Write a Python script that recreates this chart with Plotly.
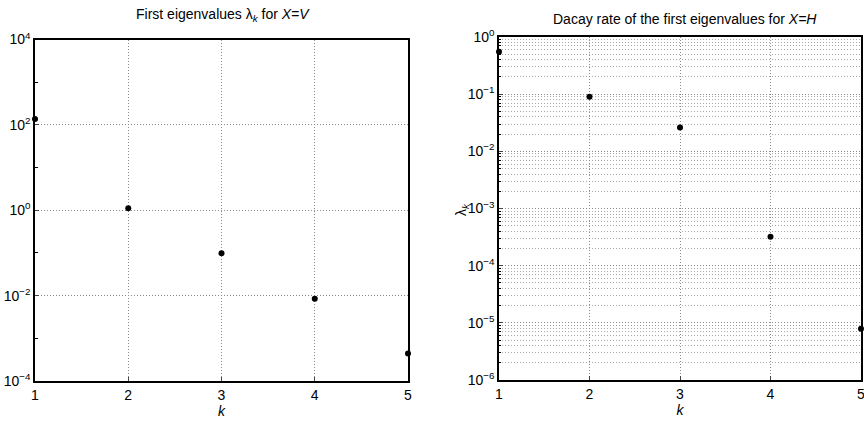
import plotly.graph_objects as go

k = [1, 2, 3, 4, 5]
lam_V = [138, 1.12, 0.098, 0.0085, 4.4e-4]
lam_H = [0.55, 0.09, 0.026, 3.2e-4, 7.9e-6]

left_major = [1e-4, 1e-2, 1, 1e2, 1e4]
left_major_text = ["10<sup>−4</sup>", "10<sup>−2</sup>", "10<sup>0</sup>", "10<sup>2</sup>", "10<sup>4</sup>"]
left_minor = [1e-3, 1e-1, 1e1, 1e3]
right_exps = [-6, -5, -4, -3, -2, -1, 0]

right_major = [10.0 ** e for e in right_exps]
right_major_text = ["10<sup>" + ("−" + str(-e) if e < 0 else str(e)) + "</sup>" for e in right_exps]
right_minor = [m * 10.0 ** e for e in right_exps[:-1] for m in range(2, 10)]

font = dict(family="Liberation Sans, Arial, sans-serif", size=14, color="black")
tfont = dict(family="Liberation Sans, Arial, sans-serif", size=14, color="black")
gridc = "#8a8a8a"
dotdash = "1px,2px"

L, R, T, B = 35, 3, 37, 40
W, H = 864, 421
PW, PH = W - L - R, H - T - B


def px(xp):
    return (xp - L) / PW


def py(yp):
    return (H - B - yp) / PH


fig = go.Figure()
fig.add_trace(go.Scatter(x=k, y=lam_V, mode="markers", xaxis="x", yaxis="y",
                         marker=dict(color="black", size=6), cliponaxis=False, showlegend=False))
fig.add_trace(go.Scatter(x=k, y=lam_H, mode="markers", xaxis="x2", yaxis="y2",
                         marker=dict(color="black", size=6), cliponaxis=False, showlegend=False))

xcommon = dict(range=[1, 5], tickvals=k, ticks="inside", ticklen=4, showgrid=True,
               gridcolor=gridc, griddash=dotdash, gridwidth=1, showline=True, mirror=True,
               linecolor="black", linewidth=1.5, zeroline=False, tickfont=font, automargin=False,
               ticklabeloverflow="allow",
               title=dict(text="<i>k</i>", font=font, standoff=0))

fig.update_layout(
    width=W, height=H, paper_bgcolor="white", plot_bgcolor="white",
    margin=dict(l=L, r=R, t=T, b=B), font=font,
    xaxis=dict(domain=[px(35), px(408)], anchor="y", **xcommon),
    xaxis2=dict(domain=[px(499), px(861)], anchor="y2", **xcommon),
    yaxis=dict(domain=[py(381), py(39.5)], anchor="x", type="log", range=[-4, 4],
               tickvals=left_major, ticktext=left_major_text, ticks="inside", ticklen=4,
               showgrid=True, gridcolor=gridc, griddash=dotdash, gridwidth=1,
               minor=dict(tickvals=left_minor, ticks="inside", ticklen=3, showgrid=False, tickcolor="black"),
               showline=True, mirror=True, linecolor="black", linewidth=1.5, zeroline=False,
               tickfont=font, automargin=False, ticklabeloverflow="allow"),
    yaxis2=dict(domain=[py(380), py(37)], anchor="x2", type="log", range=[-6, 0],
                tickvals=right_major, ticktext=right_major_text, ticks="inside", ticklen=4,
                showgrid=True, gridcolor=gridc, griddash=dotdash, gridwidth=1,
                minor=dict(tickvals=right_minor, ticks="inside", ticklen=2, showgrid=True,
                           gridcolor="#a8a8a8", griddash=dotdash, gridwidth=1, tickcolor="black"),
                showline=True, mirror=True, linecolor="black", linewidth=1.5, zeroline=False,
                tickfont=font, automargin=False, ticklabeloverflow="allow"),
    annotations=[
        dict(text="First eigenvalues λ<sub><i>k</i></sub> for <i>X=V</i>", x=px(223), y=py(15),
             xref="paper", yref="paper", xanchor="center", yanchor="middle", showarrow=False,
             font=tfont),
        dict(text="Dacay rate of the first eigenvalues for <i>X=H</i>", x=px(685), y=py(18.5),
             xref="paper", yref="paper", xanchor="center", yanchor="middle", showarrow=False,
             font=tfont),
        dict(text="λ<sub><i>k</i></sub>", x=px(462), y=py(209), xref="paper", yref="paper",
             xanchor="center", yanchor="middle", showarrow=False, textangle=-90, font=font),
    ],
)

fig.write_html("out.html", config={"displayModeBar": False},
               post_script="document.body.style.margin='0';document.body.style.overflow='hidden';")
